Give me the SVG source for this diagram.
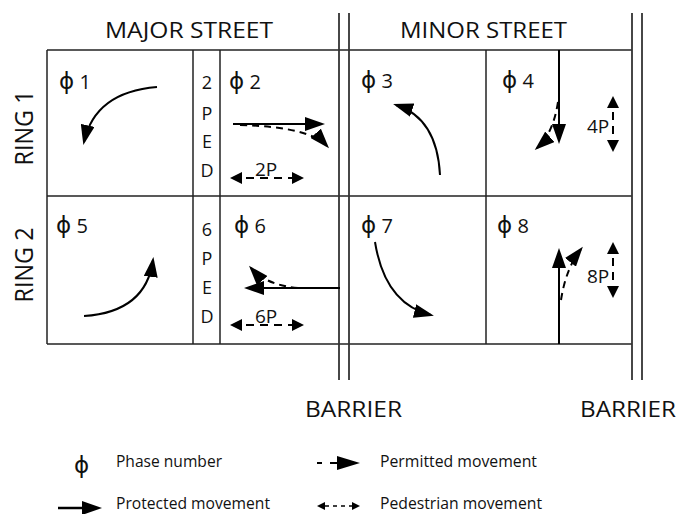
<svg xmlns="http://www.w3.org/2000/svg" width="678" height="514" viewBox="0 0 678 514">
<style>
text{font-family:"Open Sans","DejaVu Sans",sans-serif;fill:#111}
.grid{stroke:#222;stroke-width:1.5;fill:none}
.bar{stroke:#333;stroke-width:1.8;fill:none}
.hd{font-size:22px}
.ring{font-size:25px}
.ph{font-size:20px}
.phi{font-family:"DejaVu Sans",sans-serif;font-size:23px}
.ped{font-size:18px;text-anchor:middle}
.pl{font-size:19px}
.lg{font-size:16px}
.prot{stroke:#000;stroke-width:2;fill:none;marker-end:url(#big)}
.perm{stroke:#000;stroke-width:2;fill:none;stroke-dasharray:7,5;marker-end:url(#big)}
.pedm{stroke:#000;stroke-width:2;fill:none;stroke-dasharray:8,6;marker-start:url(#sm);marker-end:url(#sm)}
</style>
<defs>
<marker id="big" viewBox="0 0 20 14" refX="17" refY="7" markerWidth="20" markerHeight="14" markerUnits="userSpaceOnUse" orient="auto">
<path d="M0,0 L20,7 L0,14 z" fill="#000"/>
</marker>
<marker id="sm" viewBox="0 0 12 12" refX="10" refY="6" markerWidth="12" markerHeight="12" markerUnits="userSpaceOnUse" orient="auto-start-reverse">
<path d="M0,0 L12,6 L0,12 z" fill="#000"/>
</marker>
</defs>

<g id="grid">
<line class="grid" x1="47" y1="50" x2="632" y2="50"/>
<line class="grid" x1="47" y1="196" x2="632" y2="196"/>
<line class="grid" x1="47" y1="344" x2="632" y2="344"/>
<line class="grid" x1="47" y1="50" x2="47" y2="344"/>
<line class="grid" x1="193" y1="50" x2="193" y2="344"/>
<line class="grid" x1="220" y1="50" x2="220" y2="344"/>
<line class="grid" x1="486" y1="50" x2="486" y2="344"/>
<line class="bar" x1="339" y1="13" x2="339" y2="380"/>
<line class="bar" x1="349" y1="13" x2="349" y2="380"/>
<line class="bar" x1="632" y1="13" x2="632" y2="380"/>
<line class="bar" x1="642" y1="13" x2="642" y2="380"/>
</g>

<g id="headers">
<text class="hd" x="105" y="38" textLength="168" lengthAdjust="spacingAndGlyphs">MAJOR STREET</text>
<text class="hd" x="400" y="38" textLength="167" lengthAdjust="spacingAndGlyphs">MINOR STREET</text>
<text class="ring" transform="translate(33,128) rotate(-90)" text-anchor="middle" textLength="75" lengthAdjust="spacingAndGlyphs">RING 1</text>
<text class="ring" transform="translate(33,265) rotate(-90)" text-anchor="middle" textLength="75" lengthAdjust="spacingAndGlyphs">RING 2</text>
<text class="hd" x="305" y="417" textLength="97" lengthAdjust="spacingAndGlyphs">BARRIER</text>
<text class="hd" x="580" y="417" textLength="96" lengthAdjust="spacingAndGlyphs">BARRIER</text>
</g>

<g id="phase1">
<text class="ph" x="59" y="89"><tspan class="phi">ϕ</tspan> 1</text>
<path class="prot" d="M157,87 Q95,92 84,142"/>
</g>
<g id="ped2">
<text class="ped" x="207" y="89">2</text>
<text class="ped" x="207" y="120">P</text>
<text class="ped" x="207" y="148">E</text>
<text class="ped" x="207" y="177">D</text>
</g>
<g id="phase2">
<text class="ph" x="229" y="89"><tspan class="phi">ϕ</tspan> 2</text>
<path class="prot" d="M233,124 L322,124"/>
<path class="perm" d="M240,125 Q310,127 327,146"/>
<path class="pedm" d="M232,178 L302,178"/>
<text class="pl" x="255" y="176">2P</text>
</g>
<g id="phase3">
<text class="ph" x="361" y="88"><tspan class="phi">ϕ</tspan> 3</text>
<path class="prot" d="M440,175 Q437,118 396,105"/>
</g>
<g id="phase4">
<text class="ph" x="502" y="88"><tspan class="phi">ϕ</tspan> 4</text>
<path class="prot" d="M559,50 L559,141"/>
<path class="perm" d="M558,102 Q553,134 537,148"/>
<path class="pedm" d="M613,98 L613,150"/>
<text class="pl" x="587" y="133">4P</text>
</g>
<g id="phase5">
<text class="ph" x="56" y="233"><tspan class="phi">ϕ</tspan> 5</text>
<path class="prot" d="M84,316 Q146,312 153,260"/>
</g>
<g id="ped6">
<text class="ped" x="207" y="236">6</text>
<text class="ped" x="207" y="265">P</text>
<text class="ped" x="207" y="294">E</text>
<text class="ped" x="207" y="323">D</text>
</g>
<g id="phase6">
<text class="ph" x="234" y="233"><tspan class="phi">ϕ</tspan> 6</text>
<path class="prot" d="M340,288 L247,288"/>
<path class="perm" d="M298,288 Q266,285 251,268"/>
<path class="pedm" d="M232,325 L302,325"/>
<text class="pl" x="255" y="323">6P</text>
</g>
<g id="phase7">
<text class="ph" x="361" y="233"><tspan class="phi">ϕ</tspan> 7</text>
<path class="prot" d="M375,242 Q385,304 431,315"/>
</g>
<g id="phase8">
<text class="ph" x="497" y="233"><tspan class="phi">ϕ</tspan> 8</text>
<path class="prot" d="M559,344 L559,251"/>
<path class="perm" d="M561,300 Q566,268 581,249"/>
<path class="pedm" d="M613,244 L613,296"/>
<text class="pl" x="587" y="283">8P</text>
</g>

<g id="legend">
<text class="phi" x="74" y="473" font-size="24">ϕ</text>
<text class="lg" x="116" y="467" textLength="106" lengthAdjust="spacingAndGlyphs">Phase number</text>
<line x1="317" y1="463" x2="322" y2="463" stroke="#000" stroke-width="2"/>
<line x1="330" y1="463" x2="340" y2="463" stroke="#000" stroke-width="2"/>
<path d="M337,456 L360,463 L337,470 z" fill="#000"/>
<text class="lg" x="380" y="467" textLength="157" lengthAdjust="spacingAndGlyphs">Permitted movement</text>
<line x1="58" y1="508" x2="86" y2="508" stroke="#000" stroke-width="2.5"/>
<path d="M82,501 L102,508 L82,515 z" fill="#000"/>
<text class="lg" x="116" y="509" textLength="154" lengthAdjust="spacingAndGlyphs">Protected movement</text>
<path d="M317,506 L325,502 L325,510 z" fill="#000"/>
<line x1="325" y1="506" x2="352" y2="506" stroke="#000" stroke-width="1.5" stroke-dasharray="4,4"/>
<path d="M360,506 L352,502 L352,510 z" fill="#000"/>
<text class="lg" x="380" y="509" textLength="162" lengthAdjust="spacingAndGlyphs">Pedestrian movement</text>
</g>
</svg>
